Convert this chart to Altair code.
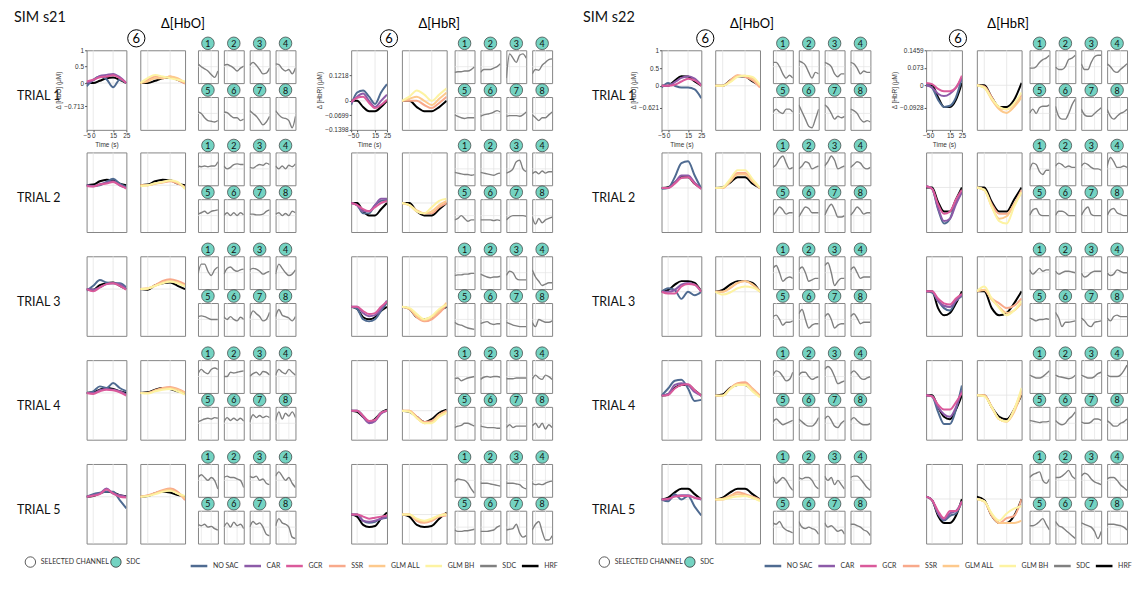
import altair as alt
import pandas as pd

T = [-5, 0, 5, 10, 15, 20, 25]
METHODS = ["NO SAC", "CAR", "GCR", "SSR", "GLM ALL", "GLM BH", "SDC", "HRF"]
COLORS = ["#4f6b91", "#8c5ba8", "#da5a9b", "#f8a98b", "#fdc98c", "#fdf3a2", "#808080", "#000000"]
MAIN_SET = ["HRF", "NO SAC", "CAR", "GCR"]
SECOND_SET = ["HRF", "SSR", "GLM ALL", "GLM BH"]
BADGE_KINDS = ["SELECTED CHANNEL", "SDC"]
BADGE_FILL = ["#ffffff", "#74d3c2"]
SUBJECTS = ["SIM s21", "SIM s22"]
CHROMS = ["Δ[HbO]", "Δ[HbR]"]
Y_TITLES = ["Δ [HbO] (μM)", "Δ [HbR] (μM)"]
SELECTED_CH = ["6"]
TIME_TICKS = [-5, 0, 15, 25]
GRID_T = [0, 15]
TRIALS = [1, 2, 3, 4, 5]

Y_DOMAINS = {("SIM s21", 0): [-1.426, 1], ("SIM s21", 1): [-0.1398, 0.2436],
             ("SIM s22", 0): [-1.242, 1], ("SIM s22", 1): [-0.1856, 0.1459]}
Y_TICKS = {("SIM s21", 0): [-0.713, 0, 0.5, 1], ("SIM s21", 1): [-0.1398, -0.0699, 0, 0.1218],
           ("SIM s22", 0): [-0.621, 0, 0.5, 1], ("SIM s22", 1): [-0.0928, 0, 0.073, 0.1459]}

# ---------------- SIM s21, HbO ----------------
S21_HBO_T1 = {
    "NO SAC": [-0.1, 0.1, 0.2, 0.12, -0.13, 0.1, 0.0],
    "CAR": [0.0, 0.08, 0.22, 0.25, 0.28, 0.18, 0.0],
    "GCR": [0.05, 0.1, 0.18, 0.2, 0.24, 0.15, 0.0],
    "SSR": [0.0, 0.1, 0.2, 0.15, 0.2, 0.1, -0.02],
    "GLM ALL": [0.0, 0.05, 0.15, 0.15, 0.2, 0.15, 0.0],
    "GLM BH": [0.0, 0.15, 0.25, 0.2, 0.15, 0.1, 0.05],
    "HRF": [0.0, 0.0, 0.07, 0.15, 0.17, 0.1, 0.0],
    "SDC": [[0.2, 0.0, -0.15, -0.3, -0.55, -0.75, -0.3], [0.1, 0.15, 0.05, -0.1, -0.3, -0.1, 0.05],
            [0.1, 0.3, 0.1, -0.2, -0.5, -0.45, -0.1], [0.2, 0.15, -0.15, -0.3, -0.2, -0.5, -0.1],
            [0.1, 0.0, -0.3, -0.5, -0.55, -0.6, -0.5], [0.1, 0.05, -0.15, -0.3, -0.3, -0.5, -0.4],
            [0.2, 0.0, -0.2, -0.5, -0.8, -0.6, -0.2], [0.2, -0.1, -0.3, -0.35, -0.5, -1.0, -0.2]],
}
S21_HBO_T2 = {
    "NO SAC": [0.0, -0.02, 0.0, 0.1, 0.2, 0.05, -0.05],
    "CAR": [0.0, -0.03, 0.03, 0.08, 0.12, 0.0, -0.08],
    "GCR": [-0.02, -0.04, 0.02, 0.05, 0.1, 0.0, -0.1],
    "SSR": [0.0, 0.0, 0.05, 0.08, 0.12, 0.05, -0.05],
    "GLM ALL": [0.0, 0.0, 0.05, 0.1, 0.14, 0.08, -0.08],
    "GLM BH": [-0.03, 0.0, 0.06, 0.1, 0.15, 0.1, -0.12],
    "HRF": [0.0, 0.02, 0.12, 0.17, 0.15, 0.05, 0.0],
    "SDC": [[0.2, 0.15, 0.2, 0.15, 0.2, 0.2, 0.5], [0.2, 0.0, 0.1, 0.3, 0.35, 0.3, 0.3],
            [0.1, 0.05, 0.2, 0.3, 0.25, 0.4, 0.3], [0.2, 0.0, 0.2, 0.0, 0.25, 0.15, 0.35],
            [0.1, 0.2, 0.3, 0.15, 0.3, 0.35, 0.4], [0.0, 0.2, 0.0, 0.2, 0.0, 0.2, 0.05],
            [0.1, 0.1, 0.05, 0.05, 0.1, 0.3, 0.4], [0.1, 0.2, 0.0, 0.15, 0.0, 0.3, 0.2]],
}
S21_HBO_T3 = {
    "NO SAC": [-0.05, 0.1, 0.28, 0.2, 0.18, 0.18, 0.05],
    "CAR": [0.0, -0.02, 0.05, 0.15, 0.18, 0.15, 0.0],
    "GCR": [0.0, -0.07, 0.05, 0.15, 0.18, 0.1, -0.02],
    "SSR": [0.0, 0.02, 0.12, 0.25, 0.3, 0.25, 0.15],
    "GLM ALL": [0.0, 0.02, 0.1, 0.2, 0.25, 0.2, 0.1],
    "GLM BH": [0.0, 0.02, 0.1, 0.18, 0.22, 0.18, 0.08],
    "HRF": [0.0, -0.02, 0.12, 0.18, 0.2, 0.1, 0.0],
    "SDC": [[-0.1, 0.6, 0.6, 0.1, -0.2, 0.2, 0.4], [-0.1, 0.3, 0.4, 0.2, 0.1, 0.2, 0.25],
            [0.2, 0.3, 0.25, 0.1, -0.1, 0.0, 0.1], [-0.1, 0.6, 0.3, 0.0, -0.2, -0.1, 0.2],
            [0.2, 0.25, 0.2, 0.1, 0.0, 0.0, 0.0], [0.2, 0.0, 0.2, 0.0, -0.1, 0.15, 0.0],
            [0.1, 0.6, 0.4, 0.2, -0.1, 0.0, 0.5], [0.2, 0.7, 0.3, 0.2, 0.1, -0.1, 0.2]],
}
S21_HBO_T4 = {
    "NO SAC": [0.0, 0.05, 0.2, 0.15, 0.3, 0.15, 0.05],
    "CAR": [0.0, 0.0, 0.08, 0.12, 0.1, 0.05, -0.05],
    "GCR": [0.0, -0.03, 0.05, 0.1, 0.08, 0.02, -0.08],
    "SSR": [0.0, 0.0, 0.08, 0.15, 0.18, 0.12, 0.02],
    "GLM ALL": [0.0, 0.0, 0.07, 0.13, 0.15, 0.1, 0.0],
    "GLM BH": [0.0, -0.02, 0.05, 0.1, 0.12, 0.05, -0.05],
    "HRF": [0.0, 0.02, 0.1, 0.15, 0.12, 0.05, 0.0],
    "SDC": [[0.2, 0.5, 0.3, 0.2, 0.5, 0.6, 0.5], [0.0, 0.0, 0.3, 0.25, 0.3, 0.35, 0.4],
            [0.0, 0.2, 0.3, 0.1, 0.35, 0.3, 0.1], [0.1, 0.5, 0.3, 0.2, 0.5, 0.3, 0.1],
            [0.1, 0.2, 0.3, 0.35, 0.3, 0.4, 0.35], [0.1, 0.4, 0.2, 0.35, 0.2, 0.35, 0.15],
            [0.1, 0.6, 0.4, 0.55, 0.4, 0.5, 0.4], [0.2, 0.8, 0.3, 0.7, 0.5, 0.8, 0.4]],
}
S21_HBO_T5 = {
    "NO SAC": [0.0, 0.08, 0.12, 0.15, 0.15, -0.1, -0.35],
    "CAR": [0.0, 0.05, 0.1, 0.25, 0.1, 0.05, 0.0],
    "GCR": [0.0, 0.03, 0.08, 0.22, 0.1, 0.0, -0.02],
    "SSR": [0.0, 0.05, 0.12, 0.2, 0.25, 0.15, -0.1],
    "GLM ALL": [0.0, 0.03, 0.1, 0.18, 0.22, 0.1, -0.05],
    "GLM BH": [0.0, 0.02, 0.08, 0.15, 0.18, 0.1, 0.02],
    "HRF": [0.0, 0.02, 0.11, 0.15, 0.13, 0.05, 0.02],
    "SDC": [[0.2, 0.4, 0.2, 0.0, 0.2, 0.0, -0.6], [0.2, 0.3, 0.2, 0.2, 0.1, 0.0, -0.5],
            [0.3, 0.2, 0.3, 0.0, 0.1, -0.2, -0.3], [0.3, 0.6, 0.3, 0.0, 0.2, -0.2, -0.5],
            [0.2, 0.1, 0.2, 0.0, 0.05, -0.1, -0.2], [0.0, 0.3, 0.0, 0.35, 0.1, 0.2, -0.1],
            [0.0, 0.4, 0.2, 0.3, 0.0, -0.5, -0.6], [0.1, 0.6, 0.3, 0.2, 0.0, -0.7, -0.8]],
}

# ---------------- SIM s21, HbR ----------------
S21_HBR_T1 = {
    "NO SAC": [-0.02, 0.04, 0.05, 0.02, -0.015, 0.04, 0.08],
    "CAR": [-0.01, 0.02, 0.035, 0.0, -0.03, 0.0, 0.03],
    "GCR": [-0.005, 0.015, 0.02, -0.01, -0.035, -0.02, 0.005],
    "SSR": [0.0, 0.0, 0.0, -0.02, -0.035, -0.01, 0.02],
    "GLM ALL": [0.0, 0.01, 0.02, 0.0, -0.02, 0.01, 0.04],
    "GLM BH": [0.0, 0.02, 0.05, 0.03, 0.0, 0.03, 0.06],
    "HRF": [0.0, 0.0, -0.03, -0.05, -0.05, -0.03, 0.0],
    "SDC": [[-0.4, -0.35, -0.35, -0.3, -0.3, -0.2, 0.0], [-0.4, -0.2, -0.2, -0.2, -0.1, 0.0, 0.2],
            [-0.8, 0.9, 0.6, 0.3, 0.8, 0.9, 0.6], [-0.5, -0.2, -0.25, 0.1, 0.3, 0.5, 0.55],
            [-0.1, -0.2, -0.3, -0.35, -0.3, -0.3, -0.3], [-0.2, -0.1, -0.05, 0.0, 0.1, 0.2, 0.1],
            [-0.2, -0.15, -0.15, -0.15, -0.2, -0.1, 0.1], [-0.1, -0.3, -0.5, -0.3, -0.3, -0.1, 0.1]],
}
S21_HBR_T2 = {
    "NO SAC": [0.0, -0.01, -0.05, -0.05, -0.01, 0.01, 0.015],
    "CAR": [0.0, -0.01, -0.04, -0.04, -0.01, 0.02, 0.02],
    "GCR": [0.0, -0.01, -0.03, -0.04, -0.02, 0.0, 0.01],
    "SSR": [0.0, -0.01, -0.04, -0.05, -0.05, -0.02, 0.0],
    "GLM ALL": [0.0, -0.01, -0.035, -0.05, -0.04, -0.01, 0.01],
    "GLM BH": [0.0, -0.01, -0.04, -0.05, -0.02, 0.01, 0.02],
    "HRF": [0.0, 0.0, -0.04, -0.06, -0.06, -0.03, 0.0],
    "SDC": [[-0.25, -0.3, -0.35, -0.4, -0.4, -0.45, -0.4], [-0.25, -0.3, -0.35, -0.4, -0.45, -0.35, -0.3],
            [-0.3, -0.2, 0.0, 0.5, 0.6, 0.0, -0.2], [-0.35, -0.2, -0.35, -0.15, -0.3, -0.2, -0.2],
            [-0.3, -0.2, 0.0, -0.2, -0.4, -0.3, -0.3], [-0.3, -0.3, -0.3, -0.3, -0.35, -0.3, -0.35],
            [-0.3, -0.1, 0.0, 0.0, 0.0, 0.0, -0.05], [-0.1, -0.6, -0.2, -0.5, -0.3, -0.2, -0.1]],
}
S21_HBR_T3 = {
    "NO SAC": [0.0, -0.01, -0.06, -0.07, -0.06, -0.02, 0.02],
    "CAR": [0.0, 0.0, -0.03, -0.045, -0.04, -0.01, 0.03],
    "GCR": [0.0, 0.0, -0.02, -0.035, -0.03, 0.0, 0.025],
    "SSR": [0.0, -0.01, -0.05, -0.07, -0.06, -0.03, 0.01],
    "GLM ALL": [0.0, -0.01, -0.045, -0.065, -0.05, -0.02, 0.02],
    "GLM BH": [0.0, -0.005, -0.035, -0.06, -0.045, -0.01, 0.01],
    "HRF": [0.0, -0.01, -0.05, -0.06, -0.05, -0.02, 0.0],
    "SDC": [[-0.2, -0.15, -0.15, -0.1, -0.1, -0.05, -0.05], [-0.1, -0.2, -0.3, -0.35, -0.3, -0.3, -0.25],
            [-0.2, 0.1, 0.0, -0.4, -0.5, -0.5, -0.5], [0.2, -0.3, -0.6, -0.9, -0.8, -0.7, -0.7],
            [-0.2, -0.35, -0.4, -0.5, -0.6, -0.65, -0.7], [-0.3, -0.2, -0.15, -0.3, -0.35, -0.3, -0.3],
            [-0.2, -0.3, -0.4, -0.45, -0.5, -0.5, -0.5], [-0.2, -0.5, 0.0, -0.1, -0.2, -0.2, -0.1]],
}
S21_HBR_T4 = {
    "NO SAC": [0.0, 0.0, -0.025, -0.055, -0.045, -0.01, 0.0],
    "CAR": [0.0, 0.0, -0.03, -0.06, -0.05, -0.015, 0.0],
    "GCR": [0.0, 0.0, -0.025, -0.05, -0.045, -0.01, 0.0],
    "SSR": [0.0, 0.0, -0.03, -0.055, -0.05, -0.02, 0.0],
    "GLM ALL": [0.0, 0.0, -0.035, -0.06, -0.055, -0.02, -0.005],
    "GLM BH": [0.0, -0.005, -0.035, -0.06, -0.06, -0.03, -0.01],
    "HRF": [0.0, -0.005, -0.03, -0.055, -0.04, -0.01, 0.005],
    "SDC": [[-0.15, -0.1, -0.3, -0.2, -0.1, -0.05, 0.0], [-0.2, -0.05, 0.0, -0.05, 0.0, 0.0, -0.05],
            [-0.15, -0.15, -0.15, -0.1, -0.1, -0.1, -0.1], [-0.2, 0.1, -0.1, -0.2, 0.1, 0.0, -0.2],
            [-0.3, -0.2, -0.15, 0.0, 0.0, -0.1, -0.2], [-0.2, -0.25, -0.3, -0.3, -0.3, -0.35, -0.35],
            [-0.3, -0.1, -0.3, -0.2, -0.2, -0.2, -0.2], [-0.2, 0.0, -0.3, 0.0, -0.4, -0.1, -0.3]],
}
S21_HBR_T5 = {
    "NO SAC": [0.0, 0.0, -0.03, -0.04, -0.035, -0.02, -0.015],
    "CAR": [0.0, 0.0, -0.03, -0.035, -0.03, -0.02, -0.01],
    "GCR": [0.0, 0.0, -0.01, -0.02, -0.015, -0.01, -0.005],
    "SSR": [0.0, 0.0, -0.03, -0.04, -0.03, -0.01, -0.005],
    "GLM ALL": [0.0, 0.0, -0.025, -0.035, -0.025, -0.005, 0.005],
    "GLM BH": [0.0, 0.0, -0.02, -0.03, -0.02, -0.005, 0.0],
    "HRF": [0.0, -0.01, -0.05, -0.06, -0.055, -0.02, 0.01],
    "SDC": [[-0.1, 0.1, 0.05, 0.0, -0.2, -0.6, -0.9], [-0.2, -0.2, -0.2, -0.25, -0.3, -0.35, -0.4],
            [-0.2, -0.2, -0.2, -0.25, -0.3, -0.5, -0.6], [-0.2, -0.3, -0.25, -0.3, -0.2, -0.1, -0.05],
            [-0.2, -0.3, -0.3, -0.25, -0.25, -0.2, -0.15], [-0.3, -0.3, -0.3, -0.25, -0.2, 0.0, 0.1],
            [-0.2, -0.15, -0.1, 0.2, -0.4, -0.7, -0.6], [-0.2, 0.2, 0.4, -0.3, -0.9, -0.9, -0.6]],
}

# ---------------- SIM s22, HbO ----------------
S22_HBO_T1 = {
    "NO SAC": [-0.05, 0.08, 0.0, -0.05, -0.05, -0.1, -0.35],
    "CAR": [0.0, 0.0, 0.1, 0.22, 0.27, 0.2, 0.02],
    "GCR": [0.0, 0.0, 0.03, 0.12, 0.2, 0.15, 0.0],
    "SSR": [0.0, 0.0, 0.15, 0.3, 0.25, 0.15, -0.05],
    "GLM ALL": [0.0, 0.0, 0.12, 0.28, 0.28, 0.2, 0.0],
    "GLM BH": [0.0, 0.0, 0.1, 0.25, 0.28, 0.25, 0.02],
    "HRF": [0.0, 0.0, 0.15, 0.27, 0.26, 0.12, 0.0],
    "SDC": [[0.3, 0.3, 0.0, -0.5, -0.8, -0.6, -0.8], [0.4, 0.3, 0.1, -0.4, -0.8, -0.4, -0.5],
            [0.3, 0.2, 0.0, -0.5, -0.7, -0.5, -0.5], [0.3, 0.2, -0.1, -0.5, -0.3, -0.4, -0.4],
            [0.1, 0.3, 0.1, 0.0, 0.3, 0.3, 0.1], [0.6, 0.1, -0.4, -0.9, -1.0, -0.4, 0.3],
            [0.6, 0.4, 0.0, -0.4, -0.2, -0.3, -0.2], [0.3, 0.2, 0.0, -0.4, -0.6, -0.5, -0.6]],
}
S22_HBO_T2 = {
    "NO SAC": [-0.02, 0.0, 0.3, 0.7, 0.75, 0.35, -0.02],
    "CAR": [0.0, 0.0, 0.15, 0.35, 0.35, 0.15, -0.02],
    "GCR": [0.0, 0.0, 0.12, 0.28, 0.3, 0.12, -0.03],
    "SSR": [0.0, 0.0, 0.2, 0.42, 0.42, 0.2, -0.02],
    "GLM ALL": [0.0, 0.0, 0.18, 0.38, 0.38, 0.18, 0.0],
    "GLM BH": [0.0, 0.02, 0.25, 0.5, 0.5, 0.25, 0.0],
    "HRF": [0.0, 0.02, 0.15, 0.3, 0.3, 0.12, 0.0],
    "SDC": [[0.1, 0.3, 0.7, 0.9, 0.4, 0.0, 0.1], [0.0, 0.2, 0.5, 0.4, 0.0, 0.1, 0.2],
            [0.2, 0.5, 0.9, 0.6, 0.0, 0.1, 0.2], [0.1, 0.3, 0.5, 0.4, 0.1, 0.0, 0.1],
            [0.0, 0.3, 0.6, 0.4, 0.1, 0.2, 0.2], [-0.1, 0.3, 0.6, 0.5, 0.2, 0.2, 0.2],
            [0.0, 0.5, 0.8, 0.4, -0.1, -0.1, 0.0], [0.0, 0.3, 0.6, 0.4, 0.1, 0.2, 0.2]],
}
S22_HBO_T3 = {
    "NO SAC": [0.0, 0.1, 0.05, -0.2, 0.0, -0.1, 0.0],
    "CAR": [0.0, 0.0, 0.05, 0.2, 0.25, 0.2, 0.0],
    "GCR": [0.0, -0.05, -0.05, 0.15, 0.22, 0.2, 0.0],
    "SSR": [0.0, 0.0, 0.1, 0.25, 0.3, 0.2, 0.0],
    "GLM ALL": [0.0, 0.0, 0.12, 0.25, 0.3, 0.2, 0.02],
    "GLM BH": [0.0, -0.08, -0.02, 0.1, 0.15, 0.12, 0.0],
    "HRF": [0.0, 0.05, 0.2, 0.3, 0.3, 0.25, 0.0],
    "SDC": [[0.3, 0.5, 0.0, -0.6, -0.4, -0.3, -0.4], [0.2, 0.4, 0.0, -0.6, -0.5, -0.4, -0.4],
            [0.5, 0.7, 0.0, -0.9, -0.6, -0.4, -0.4], [0.2, 0.4, 0.0, -0.4, -0.3, -0.3, -0.3],
            [0.2, 0.3, 0.0, -0.4, -0.2, -0.2, -0.1], [0.4, 0.7, 0.0, -0.6, -0.4, -0.3, -0.3],
            [0.2, 0.4, 0.0, -0.6, -0.4, -0.3, -0.3], [0.2, 0.4, 0.1, -0.3, -0.2, -0.2, -0.2]],
}
S22_HBO_T4 = {
    "NO SAC": [0.0, 0.2, 0.42, 0.45, 0.2, -0.15, -0.12],
    "CAR": [0.0, 0.05, 0.3, 0.35, 0.3, 0.1, 0.0],
    "GCR": [0.0, 0.02, 0.2, 0.3, 0.32, 0.15, 0.0],
    "SSR": [0.0, 0.0, 0.2, 0.35, 0.38, 0.2, 0.0],
    "GLM ALL": [0.0, 0.0, 0.2, 0.33, 0.33, 0.18, -0.02],
    "GLM BH": [0.0, 0.0, 0.18, 0.3, 0.3, 0.12, -0.05],
    "HRF": [0.0, 0.03, 0.22, 0.3, 0.3, 0.15, 0.0],
    "SDC": [[0.1, 0.4, 0.3, 0.0, -0.3, -0.2, 0.3], [0.1, 0.3, 0.3, 0.0, -0.2, -0.1, 0.0],
            [0.5, 0.7, 0.5, 0.0, -0.5, -0.4, -0.3], [0.2, 0.4, 0.2, -0.1, -0.2, -0.1, 0.0],
            [0.1, 0.3, 0.1, -0.1, 0.0, 0.1, 0.2], [0.3, 0.1, -0.1, -0.2, -0.2, 0.0, 0.4],
            [0.3, 0.5, 0.2, -0.2, -0.3, 0.0, 0.2], [0.2, 0.4, 0.2, 0.0, -0.1, -0.1, 0.0]],
}
S22_HBO_T5 = {
    "NO SAC": [0.0, -0.05, 0.15, 0.0, 0.1, -0.2, -0.45],
    "CAR": [0.0, 0.0, 0.1, 0.12, 0.12, 0.05, 0.0],
    "GCR": [0.0, 0.02, 0.08, 0.1, 0.1, 0.05, 0.02],
    "SSR": [0.0, 0.0, 0.1, 0.2, 0.15, 0.08, 0.0],
    "GLM ALL": [0.0, 0.02, 0.1, 0.15, 0.12, 0.05, -0.02],
    "GLM BH": [0.0, 0.0, 0.05, 0.08, 0.1, 0.05, -0.05],
    "HRF": [0.0, 0.05, 0.2, 0.3, 0.3, 0.15, 0.0],
    "SDC": [[0.3, -0.2, 0.0, 0.2, 0.0, -0.4, -0.7], [0.2, 0.1, 0.2, 0.2, 0.0, -0.4, -0.6],
            [0.3, 0.0, 0.2, -0.3, 0.0, -0.3, -0.6], [0.2, 0.3, 0.3, 0.1, -0.2, -0.5, -0.7],
            [0.3, 0.2, 0.4, 0.0, -0.2, -0.3, -0.4], [0.4, 0.0, -0.1, 0.0, -0.1, -0.2, -0.5],
            [0.3, 0.0, 0.1, -0.1, -0.3, -0.2, -0.5], [0.2, 0.2, 0.1, 0.0, -0.2, -0.3, -0.6]],
}

# ---------------- SIM s22, HbR ----------------
S22_HBR_T1 = {
    "NO SAC": [0.005, -0.01, -0.06, -0.09, -0.085, -0.05, 0.03],
    "CAR": [0.0, -0.01, -0.035, -0.045, -0.035, -0.01, 0.03],
    "GCR": [0.01, 0.005, -0.015, -0.025, -0.025, -0.01, 0.04],
    "SSR": [0.0, -0.005, -0.05, -0.095, -0.1, -0.08, -0.04],
    "GLM ALL": [0.0, -0.01, -0.06, -0.1, -0.115, -0.09, -0.05],
    "GLM BH": [0.0, -0.01, -0.055, -0.09, -0.1, -0.075, -0.03],
    "HRF": [0.0, 0.0, -0.05, -0.09, -0.09, -0.06, 0.01],
    "SDC": [[-0.1, -0.1, 0.0, 0.3, 0.5, 0.6, 0.8], [0.0, -0.2, -0.2, 0.0, 0.5, 0.6, 0.8],
            [0.2, -0.2, -0.2, 0.3, 0.7, 0.8, 0.8], [0.2, 0.0, -0.3, -0.4, -0.2, 0.0, 0.2],
            [0.0, 0.3, 0.0, 0.4, 0.5, 0.5, 0.6], [0.5, -0.2, -0.4, -0.4, 0.0, 0.6, 1.0],
            [0.3, -0.1, -0.2, -0.2, 0.0, 0.2, 0.4], [0.3, -0.2, -0.4, -0.2, 0.0, 0.1, 0.3]],
}
S22_HBR_T2 = {
    "NO SAC": [0.005, -0.005, -0.09, -0.15, -0.13, -0.06, -0.02],
    "CAR": [0.005, -0.005, -0.085, -0.14, -0.13, -0.07, -0.02],
    "GCR": [0.005, -0.005, -0.07, -0.11, -0.1, -0.05, -0.01],
    "SSR": [0.0, -0.01, -0.07, -0.11, -0.11, -0.07, -0.01],
    "GLM ALL": [0.0, -0.01, -0.08, -0.13, -0.12, -0.07, -0.02],
    "GLM BH": [0.0, -0.01, -0.08, -0.14, -0.15, -0.08, -0.02],
    "HRF": [0.0, 0.0, -0.06, -0.1, -0.1, -0.05, 0.0],
    "SDC": [[-0.1, 0.4, 0.3, -0.2, -0.4, -0.1, -0.1], [0.2, 0.4, 0.3, 0.1, 0.2, 0.1, 0.1],
            [0.2, 0.4, 0.3, 0.1, 0.0, 0.0, -0.1], [0.2, 0.8, 0.5, 0.1, 0.1, 0.2, 0.1],
            [0.0, 0.4, 0.5, 0.1, 0.0, 0.0, 0.0], [0.0, 0.3, 0.3, 0.2, 0.0, 0.0, 0.0],
            [0.0, 0.4, 0.6, 0.1, 0.0, 0.0, 0.0], [0.0, 0.4, 0.5, 0.2, 0.1, 0.0, 0.0]],
}
S22_HBR_T3 = {
    "NO SAC": [0.0, -0.005, -0.04, -0.07, -0.08, -0.04, -0.02],
    "CAR": [0.0, 0.0, -0.04, -0.06, -0.065, -0.04, -0.015],
    "GCR": [0.0, 0.0, -0.03, -0.05, -0.055, -0.03, -0.01],
    "SSR": [0.0, 0.005, -0.03, -0.05, -0.07, -0.06, -0.03],
    "GLM ALL": [0.0, 0.005, -0.035, -0.065, -0.09, -0.08, -0.05],
    "GLM BH": [0.0, 0.02, -0.03, -0.07, -0.1, -0.08, -0.04],
    "HRF": [0.0, 0.0, -0.07, -0.1, -0.09, -0.05, 0.0],
    "SDC": [[0.2, -0.1, 0.1, 0.3, 0.1, 0.2, 0.2], [0.1, -0.1, 0.0, 0.1, 0.1, 0.05, 0.0],
            [0.0, -0.3, -0.2, 0.0, 0.1, 0.1, 0.1], [0.0, -0.2, -0.1, 0.2, 0.1, 0.0, 0.0],
            [0.1, 0.0, -0.1, 0.0, 0.0, 0.05, 0.0], [0.5, 0.1, -0.5, -0.2, -0.2, -0.15, -0.1],
            [0.1, -0.1, -0.4, -0.5, -0.2, -0.15, -0.1], [0.1, -0.1, 0.2, 0.3, 0.2, 0.2, 0.2]],
}
S22_HBR_T4 = {
    "NO SAC": [0.0, -0.005, -0.07, -0.12, -0.12, -0.06, 0.04],
    "CAR": [0.0, -0.005, -0.05, -0.08, -0.09, -0.05, 0.02],
    "GCR": [0.0, -0.005, -0.04, -0.06, -0.06, -0.03, 0.01],
    "SSR": [0.0, 0.0, -0.05, -0.1, -0.11, -0.06, 0.02],
    "GLM ALL": [0.0, 0.0, -0.05, -0.1, -0.11, -0.07, 0.01],
    "GLM BH": [0.0, -0.005, -0.05, -0.1, -0.11, -0.06, 0.03],
    "HRF": [0.0, 0.0, -0.05, -0.09, -0.1, -0.06, 0.0],
    "SDC": [[0.1, 0.0, -0.1, -0.1, 0.0, 0.2, 0.4], [0.1, 0.0, -0.05, -0.1, -0.15, -0.1, 0.1],
            [0.1, 0.0, -0.1, -0.1, 0.0, 0.2, 0.3], [0.1, 0.0, 0.0, 0.0, 0.1, 0.4, 0.8],
            [0.2, 0.15, 0.1, 0.05, 0.1, 0.1, 0.15], [0.2, 0.0, -0.1, 0.0, 0.3, 0.5, 0.8],
            [0.1, 0.0, 0.0, 0.1, 0.3, 0.3, 0.2], [0.2, 0.0, -0.2, -0.2, 0.0, 0.1, 0.3]],
}
S22_HBR_T5 = {
    "NO SAC": [0.01, -0.005, -0.06, -0.09, -0.07, -0.06, -0.01],
    "CAR": [0.01, -0.005, -0.06, -0.085, -0.06, -0.05, -0.01],
    "GCR": [0.01, -0.005, -0.05, -0.08, -0.05, -0.05, -0.01],
    "SSR": [0.0, -0.01, -0.07, -0.1, -0.08, -0.07, 0.0],
    "GLM ALL": [0.0, -0.01, -0.065, -0.1, -0.1, -0.1, -0.09],
    "GLM BH": [0.0, -0.01, -0.06, -0.09, -0.06, -0.04, -0.03],
    "HRF": [0.01, -0.005, -0.07, -0.1, -0.1, -0.07, 0.0],
    "SDC": [[0.2, 0.4, 0.5, 0.6, 0.0, -0.2, 0.1], [0.2, 0.2, 0.3, 0.5, 0.7, 0.3, 0.1],
            [0.3, 0.5, 0.4, 0.1, -0.1, -0.2, -0.3], [0.1, 0.2, 0.2, 0.0, -0.3, -0.5, -0.7],
            [0.1, 0.1, 0.2, 0.4, 0.6, 0.2, -0.2], [0.4, 0.1, 0.0, -0.2, -0.4, -0.6, -0.8],
            [0.3, 0.2, 0.1, 0.0, -0.3, -0.8, -0.3], [0.2, 0.2, 0.2, 0.15, 0.1, 0.0, -0.2]],
}

BLOCK_DATA = {
    ("SIM s21", 0): [S21_HBO_T1, S21_HBO_T2, S21_HBO_T3, S21_HBO_T4, S21_HBO_T5],
    ("SIM s21", 1): [S21_HBR_T1, S21_HBR_T2, S21_HBR_T3, S21_HBR_T4, S21_HBR_T5],
    ("SIM s22", 0): [S22_HBO_T1, S22_HBO_T2, S22_HBO_T3, S22_HBO_T4, S22_HBO_T5],
    ("SIM s22", 1): [S22_HBR_T1, S22_HBR_T2, S22_HBR_T3, S22_HBR_T4, S22_HBR_T5],
}

# ---------------- layout & styling ----------------
LABEL_FONT = "Lato"
TICK_FONT = "Liberation Sans"
GRID_COLOR = "#e3e3e3"
FRAME_COLOR = "#858585"
PANEL_H = 80
MAIN_W = [40, 36]
SECOND_W = 45
GAP_MAIN_SECOND = [14, 15]
GAP_SECOND_SMALL = [11, 6]
LEAD_W = [59, 39]            # label column (HbO) / spacer (HbR) before each main panel
SMALL_W, SMALL_H = 20, 33
SMALL_GAP_COL, SMALL_GAP_ROW = 6, 14
SMALL_COLS = 4
SMALL_GRID_W = 4 * SMALL_W + 3 * SMALL_GAP_COL
CIRCLE_DX = [10, 6]
BADGE_SIZE = 160
BADGE_Y = -7
SUBJECT_GAP = 35
HEADER_GAP = -16
ROW1_GAP = -12.3             # row 1 carries the time axis underneath
ROW_GAP = 7.4
LEGEND_GAP = 5.5
LEGEND_W = 547
LEGEND_X = 176
LEGEND_FONT_SIZE = 7


def block_width(ci):
    return LEAD_W[ci] + GAP_MAIN_SECOND[ci] + MAIN_W[ci] + GAP_MAIN_SECOND[ci] + SECOND_W + \
        GAP_SECOND_SMALL[ci] + SMALL_GRID_W


HBO_W = block_width(0)
HBR_W = block_width(1)
SUBJECT_W = HBO_W + HBR_W

XS = alt.Scale(domain=[-5, 25], nice=False, zero=False)
SMALL_YS = alt.Scale(domain=[-1.15, 1.15], nice=False, zero=False)
COLOR_SCALE = alt.Scale(domain=METHODS, range=COLORS)
NO_FRAME = alt.ViewBackground(stroke="transparent")
GRID_DF = pd.DataFrame({"g": GRID_T})
ZERO_DF = pd.DataFrame({"z": [0]})
HIDDEN_HEADER = alt.Header(labels=False, title=None, labelFontSize=1, labelColor="transparent",
                           labelPadding=0, titlePadding=0)

AX_STYLE = dict(grid=False, domain=False, ticks=True, tickSize=2, tickColor="#555555",
                labelFont=TICK_FONT, labelFontSize=6.5, labelColor="#333333",
                titleFont=TICK_FONT, titleFontSize=6.5, titleColor="#333333",
                titleFontWeight="normal", labelOverlap=False, labelFlush=False,
                labelPadding=1, titlePadding=2)


def long_df(trial, methods):
    rows = []
    for m in methods:
        for t, v in zip(T, trial[m]):
            rows.append({"t": t, "v": v, "m": m})
    return pd.DataFrame(rows)


def sdc_df(trial):
    rows = []
    for i, series in enumerate(trial["SDC"]):
        for t, v in zip(T, series):
            rows.append({"ch": str(i + 1), "r": i // SMALL_COLS, "c": i % SMALL_COLS, "t": t, "v": v})
    return pd.DataFrame(rows)


def top_reserve():
    # invisible twin of a channel badge, so every panel group reaches as high as the badges
    return alt.Chart(pd.DataFrame({"c": [0]})).mark_circle(
        size=BADGE_SIZE, opacity=0, stroke="#3a3a3a", strokeWidth=0.7).encode(
        x=alt.value(SMALL_W / 2), y=alt.value(BADGE_Y))


def panel(trial, methods, width, key, chrom_i, first, extra):
    ys = alt.Scale(domain=Y_DOMAINS[key], nice=False, zero=False)
    if first:
        xax = alt.Axis(values=TIME_TICKS, title="Time (s)", **AX_STYLE)
        yax = alt.Axis(values=Y_TICKS[key], title=Y_TITLES[chrom_i], format=".4~g", **AX_STYLE)
    else:
        xax = None
        yax = None
    gv = alt.Chart(GRID_DF).mark_rule(color=GRID_COLOR, strokeWidth=0.8).encode(
        x=alt.X("g:Q", scale=XS, axis=xax))
    gh = alt.Chart(ZERO_DF).mark_rule(color=GRID_COLOR, strokeWidth=0.8).encode(
        y=alt.Y("z:Q", scale=ys, axis=yax))
    lines = alt.Chart(long_df(trial, methods)).mark_line(
        interpolate="monotone", strokeWidth=2, clip=True).encode(
        x=alt.X("t:Q", scale=XS, axis=xax),
        y=alt.Y("v:Q", scale=ys, axis=yax),
        color=alt.Color("m:N", scale=COLOR_SCALE, legend=None),
    )
    return alt.layer(gv, gh, lines, *extra).properties(width=width, height=PANEL_H)


def small_grid(trial):
    base = alt.Chart()
    first_pt = "datum.t == -5"
    gv = base.mark_rule(color=GRID_COLOR, strokeWidth=0.7).encode(
        x=alt.X("t:Q", scale=XS, axis=None)).transform_filter("datum.t == 0 || datum.t == 15")
    gh = base.mark_rule(color=GRID_COLOR, strokeWidth=0.7).encode(
        y=alt.Y("zero:Q", scale=SMALL_YS, axis=None)).transform_filter(first_pt).transform_calculate(zero="0")
    line = base.mark_line(color=COLORS[METHODS.index("SDC")], strokeWidth=1.4,
                          interpolate="monotone", clip=True).encode(
        x=alt.X("t:Q", scale=XS, axis=None), y=alt.Y("v:Q", scale=SMALL_YS, axis=None))
    badge = base.mark_circle(size=BADGE_SIZE, fill=BADGE_FILL[1], stroke="#3a3a3a", strokeWidth=0.7,
                             opacity=1).encode(
        x=alt.value(SMALL_W / 2), y=alt.value(BADGE_Y)).transform_filter(first_pt)
    badge_txt = base.mark_text(font=LABEL_FONT, fontSize=9, color="#111111", baseline="middle",
                               align="center").encode(
        x=alt.value(SMALL_W / 2), y=alt.value(BADGE_Y + 0.5), text="ch:N").transform_filter(first_pt)
    inner = alt.layer(gv, gh, line, badge, badge_txt).properties(width=SMALL_W, height=SMALL_H)
    return inner.facet(
        row=alt.Row("r:O", header=HIDDEN_HEADER, title=None),
        column=alt.Column("c:O", header=HIDDEN_HEADER, title=None),
        spacing={"row": SMALL_GAP_ROW, "column": SMALL_GAP_COL}, bounds="flush",
        data=sdc_df(trial))


def lead_chart(chrom_i, r):
    if chrom_i == 0:
        lab = alt.Chart(pd.DataFrame({"label": [f"TRIAL {r}"]})).mark_text(
            align="left", baseline="middle", font=LABEL_FONT, fontSize=12.5, color="#111111").encode(
            text="label:N", x=alt.value(3), y=alt.value(46))
    else:
        lab = alt.Chart(pd.DataFrame({"label": [""]})).mark_text().encode(
            text="label:N", x=alt.value(0), y=alt.value(0))
    return alt.layer(lab).properties(width=LEAD_W[chrom_i], height=PANEL_H, view=NO_FRAME)


def chrom_block(subject, chrom_i, r):
    key = (subject, chrom_i)
    trial = BLOCK_DATA[key][r - 1]
    first = r == 1
    main = panel(trial, MAIN_SET, MAIN_W[chrom_i], key, chrom_i, first, [])
    second = panel(trial, SECOND_SET, SECOND_W, key, chrom_i, False, [top_reserve()])
    pair = alt.hconcat(lead_chart(chrom_i, r), main, second, spacing=GAP_MAIN_SECOND[chrom_i],
                       bounds="flush")
    return alt.hconcat(pair, small_grid(trial), spacing=GAP_SECOND_SMALL[chrom_i])


def row(r):
    blocks = []
    for subject in SUBJECTS:
        blocks.append(alt.hconcat(chrom_block(subject, 0, r), chrom_block(subject, 1, r), spacing=0))
    return alt.hconcat(blocks[0], blocks[1], spacing=SUBJECT_GAP)


def header_chart(s_i):
    layers = [alt.Chart(pd.DataFrame({"s": [SUBJECTS[s_i]]})).mark_text(
        align="left", baseline="middle", font=LABEL_FONT, fontSize=14.5, color="#111111").encode(
        text="s:N", x=alt.value(0), y=alt.value(7))]
    offsets = [0, HBO_W]
    for ci in range(2):
        main_left = offsets[ci] + LEAD_W[ci] + GAP_MAIN_SECOND[ci]
        centre = offsets[ci] + LEAD_W[ci] + (block_width(ci) - LEAD_W[ci]) / 2
        layers.append(alt.Chart(pd.DataFrame({"c": [CHROMS[ci]]})).mark_text(
            font=LABEL_FONT, fontSize=13, color="black", baseline="middle", align="center").encode(
            x=alt.value(centre), y=alt.value(13), text="c:N"))
        cx = main_left + MAIN_W[ci] + CIRCLE_DX[ci]
        sel = pd.DataFrame({"c": SELECTED_CH})
        layers.append(alt.Chart(sel).mark_circle(size=300, fill="white", stroke="black",
                                                 strokeWidth=1, opacity=1).encode(
            x=alt.value(cx), y=alt.value(27)))
        layers.append(alt.Chart(sel).mark_text(font=LABEL_FONT, fontSize=13, color="black",
                                               baseline="middle", align="center").encode(
            x=alt.value(cx), y=alt.value(27.5), text="c:N"))
    return alt.layer(*layers).properties(width=SUBJECT_W, height=36, view=NO_FRAME)


def legend_chart():
    lines = alt.Chart(pd.DataFrame({"m": METHODS})).mark_line(strokeWidth=2.5).encode(
        x=alt.value(0), y=alt.value(0),
        color=alt.Color("m:N", scale=COLOR_SCALE, legend=alt.Legend(
            orient="none", legendX=LEGEND_X, legendY=0, direction="horizontal", title=None,
            symbolType="stroke", symbolSize=280, symbolStrokeWidth=2.5, labelFont=LABEL_FONT,
            labelFontSize=LEGEND_FONT_SIZE, labelColor="#333333", labelOffset=4,
            columnPadding=0, padding=0, symbolOpacity=1, gridAlign="none")))
    pts = alt.Chart(pd.DataFrame({"k": BADGE_KINDS})).mark_circle(opacity=0).encode(
        x=alt.value(0), y=alt.value(0),
        fill=alt.Fill("k:N", scale=alt.Scale(domain=BADGE_KINDS, range=BADGE_FILL), legend=alt.Legend(
            orient="none", legendX=10.5, legendY=0, direction="horizontal", title=None,
            symbolType="circle", symbolSize=110, symbolStrokeColor="#333333", symbolStrokeWidth=0.8,
            labelFont=LABEL_FONT, labelFontSize=LEGEND_FONT_SIZE, labelColor="#333333",
            labelOffset=4.5, columnPadding=0, padding=0, symbolOpacity=1, gridAlign="none")))
    return alt.layer(pts, lines).properties(width=LEGEND_W, height=10, view=NO_FRAME)


header_row = alt.hconcat(header_chart(0), header_chart(1), spacing=SUBJECT_GAP)
top = alt.vconcat(header_row, row(1), spacing=HEADER_GAP)
rest = alt.vconcat(*[row(r) for r in TRIALS[1:]], spacing=ROW_GAP)
body = alt.vconcat(top, rest, spacing=ROW1_GAP)
legend_row = alt.hconcat(legend_chart(), legend_chart(),
                         spacing=SUBJECT_W + SUBJECT_GAP - LEGEND_W).resolve_scale(
    color="independent", fill="independent")

chart = alt.vconcat(body, legend_row, spacing=LEGEND_GAP).properties(
    padding={"left": 0, "top": 0, "right": 0, "bottom": 0}
).configure_view(stroke=FRAME_COLOR, strokeWidth=1)

chart.save("out.html", embed_options={"renderer": "svg", "actions": False})
